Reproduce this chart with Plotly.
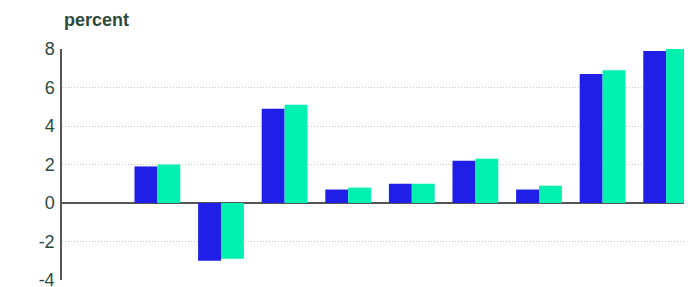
import plotly.graph_objects as go

categories = ["c0", "c1", "c2", "c3", "c4", "c5", "c6", "c7", "c8", "c9"]
series_a = [None, 1.9, -3.0, 4.9, 0.7, 1.0, 2.2, 0.7, 6.7, 7.9]
series_b = [None, 2.0, -2.9, 5.1, 0.8, 1.0, 2.3, 0.9, 6.9, 8.0]
y_ticks = [-4, -2, 0, 2, 4, 6, 8]
y_tick_labels = ["-4", "-2", "0", "2", "4", "6", "8"]

fig = go.Figure()
fig.add_trace(go.Bar(x=categories, y=series_a, marker_color="#1f1fe8", marker_line_width=0, name="A"))
fig.add_trace(go.Bar(x=categories, y=series_b, marker_color="#00f0b0", marker_line_width=0, name="B"))

fig.update_layout(
    width=692, height=287,
    margin=dict(l=54, r=8, t=41, b=15, autoexpand=False),
    plot_bgcolor="white", paper_bgcolor="white",
    barmode="group", bargap=0.28, bargroupgap=0,
    showlegend=False,
    font=dict(family="Liberation Sans, Arial, sans-serif", color="#2d4a3e"),
    annotations=[dict(text="<b>percent</b>", xref="paper", yref="paper", x=0, y=1,
                      yshift=17, xanchor="left", yanchor="bottom", showarrow=False,
                      font=dict(size=18, color="#2d4a3e"))],
)
fig.update_xaxes(range=[-0.5, 9.406], showticklabels=False, showgrid=False,
                 zeroline=False, showline=False, ticks="", automargin=False)
fig.update_yaxes(range=[-4, 8], tickvals=y_ticks, ticktext=y_tick_labels,
                 tickfont=dict(size=18, color="#2d4a3e"),
                 showgrid=True, gridcolor="#c8c8c8", griddash="1px,2px", gridwidth=1,
                 zeroline=True, zerolinecolor="#555555", zerolinewidth=1.5,
                 showline=True, linecolor="#555555", linewidth=1.5,
                 ticks="", ticklabelstandoff=2, automargin=False)

fig.write_html("out.html")
